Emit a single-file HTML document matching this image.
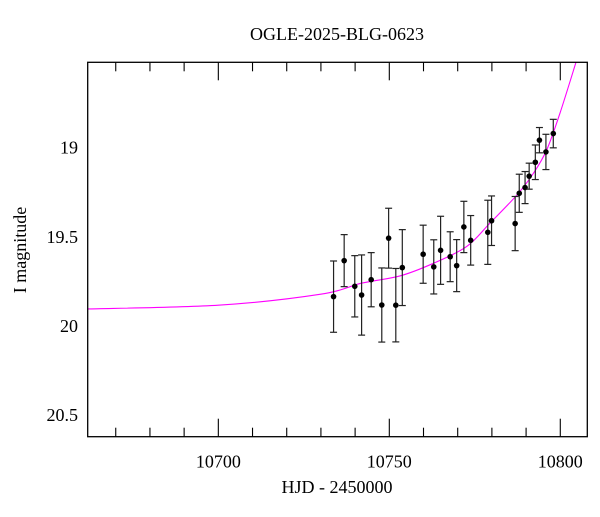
<!DOCTYPE html>
<html><head><meta charset="utf-8"><style>
body{margin:0;background:#fff}
svg text{font-family:"Liberation Serif",serif;fill:#000}
</style></head><body>
<svg id="chart" width="600" height="512" viewBox="0 0 600 512" xmlns="http://www.w3.org/2000/svg">
<rect width="600" height="512" fill="#fff"/>
<text x="337" y="40" font-size="18" text-anchor="middle">OGLE-2025-BLG-0623</text>
<text x="337" y="493" font-size="18" text-anchor="middle">HJD - 2450000</text>
<text transform="translate(26,250) rotate(-90)" font-size="18" text-anchor="middle">I magnitude</text>
<g id="ticks"></g>
<g id="curve"></g>
<g id="points"></g>
<rect x="87.7" y="62.3" width="499.6" height="374.4" fill="none" stroke="#000" stroke-width="1.3"/>
</svg>
<script>
const times=[10733.7,10736.8,10739.9,10741.9,10744.7,10747.8,10749.8,10751.9,10753.8,10759.9,10763.0,10765.0,10767.8,10769.7,10771.8,10773.8,10778.8,10779.9,10786.8,10788.0,10789.7,10790.9,10792.7,10793.9,10795.8,10797.95];
const mags=[19.836,19.634,19.778,19.827,19.741,19.883,19.508,19.884,19.673,19.598,19.669,19.576,19.612,19.662,19.445,19.520,19.475,19.410,19.426,19.256,19.224,19.160,19.082,18.958,19.024,18.921];
const errs=[0.20,0.146,0.172,0.225,0.152,0.208,0.168,0.206,0.213,0.163,0.152,0.191,0.14,0.146,0.144,0.139,0.18,0.139,0.152,0.107,0.09,0.073,0.097,0.071,0.099,0.08];
const xTicks=[10700,10750,10800];
const yTicks=[19,19.5,20,20.5];
const modelTimes=[10661.8,10700,10729.7,10742,10753.1,10762.9,10772.6,10779.4,10787.3,10792.1,10796.0,10799.9,10804.8];
const modelMags=[19.905,19.884,19.823,19.760,19.720,19.649,19.555,19.424,19.266,19.145,19.014,18.807,18.508];

const X0=87.7,X1=587.3,Y0=62.3,Y1=436.7;
const tMin=10661.8,tMax=10807.9,mMin=18.521,mMax=20.622;
const sx=t=>X0+(t-tMin)/(tMax-tMin)*(X1-X0);
const sy=m=>Y0+(m-mMin)/(mMax-mMin)*(Y1-Y0);
const NS="http://www.w3.org/2000/svg";
function mk(tag,attrs,parent){const e=document.createElementNS(NS,tag);for(const k in attrs)e.setAttribute(k,attrs[k]);parent.appendChild(e);return e;}
const tg=document.getElementById('ticks');
for(let t=10670;t<=10800;t+=10){
  const x=sx(t);const maj=t%50===0;const L=maj?18:9;
  const a=mk('line',{x1:x,y1:Y1,x2:x,y2:Y1-L,stroke:'#000','stroke-width':1.1},tg);
  
  
  const b=mk('line',{x1:x,y1:Y0,x2:x,y2:Y0+L,stroke:'#000','stroke-width':1.1},tg);
  
  
}
xTicks.forEach(t=>{
  const e=mk('text',{x:sx(t),y:Y1+31,'font-size':18,'text-anchor':'middle'},tg);e.textContent=t;
  
  
});
for(let i=6;i<=26;i++){
  const m=i/10;const y=sy(m);const maj=i%5===0;const L=maj?19:9;
  const a=mk('line',{x1:X0,y1:y,x2:X0+L,y2:y,stroke:'#000','stroke-width':1.1},tg);
  
  
  const b=mk('line',{x1:X1,y1:y,x2:X1-L,y2:y,stroke:'#000','stroke-width':1.1},tg);
  
  
}
yTicks.forEach(m=>{
  const e=mk('text',{x:78,y:sy(m)+6,'font-size':18,'text-anchor':'end'},tg);e.textContent=m;
  
  
});
// model curve via Catmull-Rom spline through knots
const P=modelTimes.map((t,i)=>[sx(t),sy(modelMags[i])]);
let d='M'+P[0][0].toFixed(2)+','+P[0][1].toFixed(2);
for(let i=0;i<P.length-1;i++){
  const p0=P[Math.max(0,i-1)],p1=P[i],p2=P[i+1],p3=P[Math.min(P.length-1,i+2)];
  const c1=[p1[0]+(p2[0]-p0[0])/6,p1[1]+(p2[1]-p0[1])/6];
  const c2=[p2[0]-(p3[0]-p1[0])/6,p2[1]-(p3[1]-p1[1])/6];
  d+='C'+c1[0].toFixed(2)+','+c1[1].toFixed(2)+' '+c2[0].toFixed(2)+','+c2[1].toFixed(2)+' '+p2[0].toFixed(2)+','+p2[1].toFixed(2);
}
const cg=document.getElementById('curve');
mk('clipPath',{id:'clip'},cg).appendChild(document.createElementNS(NS,'rect'));
const cr=cg.querySelector('clipPath rect');cr.setAttribute('x',X0);cr.setAttribute('y',Y0);cr.setAttribute('width',X1-X0);cr.setAttribute('height',Y1-Y0);
const cp=mk('path',{d:d,fill:'none',stroke:'#ff00ff','stroke-width':1.1,'clip-path':'url(#clip)'},cg);


// points
const pg=document.getElementById('points');
times.forEach((t,i)=>{
  const x=sx(t),y=sy(mags[i]),ya=sy(mags[i]-errs[i]),yb=sy(mags[i]+errs[i]);
  const g=mk('g',{},pg);
  
  
  mk('line',{x1:x,y1:ya,x2:x,y2:yb,stroke:'#222','stroke-width':1.2},g);
  mk('line',{x1:x-3.5,y1:ya,x2:x+3.5,y2:ya,stroke:'#222','stroke-width':1.2},g);
  mk('line',{x1:x-3.5,y1:yb,x2:x+3.5,y2:yb,stroke:'#222','stroke-width':1.2},g);
  mk('circle',{cx:x,cy:y,r:2.8,fill:'#000'},g);
});
</script>
</body></html>
